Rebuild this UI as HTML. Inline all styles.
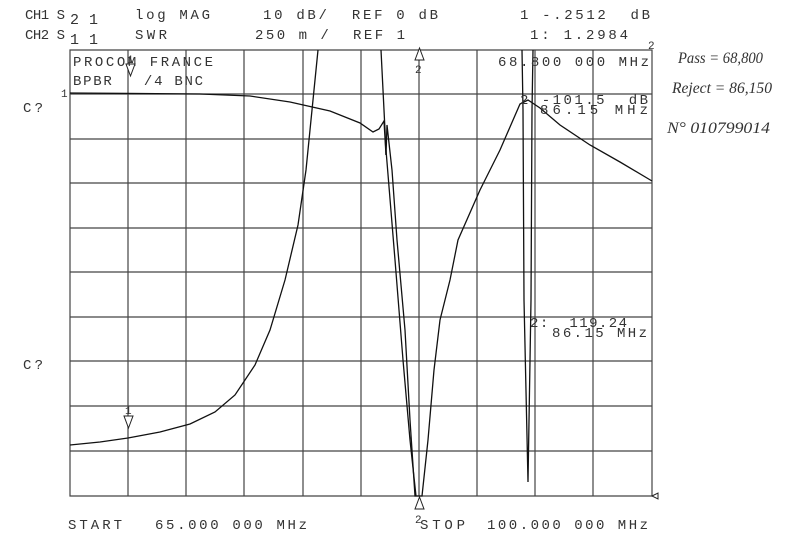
<!DOCTYPE html>
<html><head><style>
body{margin:0;background:#fff;}
svg{display:block}
text{font-family:"Liberation Mono",monospace;fill:#333;white-space:pre;}
</style></head><body>
<svg width="800" height="557" viewBox="0 0 800 557" xml:space="preserve">
<rect width="800" height="557" fill="#fff"/>
<g stroke="#444" stroke-width="1.2" fill="none">
<path d="M70 50H652V496H70Z"/>
<path d="M128 50V496M186 50V496M244 50V496M303 50V496M361 50V496M419 50V496M477 50V496M535 50V496M593 50V496"/>
<path d="M70 94H652M70 139H652M70 183H652M70 228H652M70 272H652M70 317H652M70 361H652M70 406H652M70 451H652"/>
</g>
<g stroke="#111" stroke-width="1.3" fill="none">
<path d="M70 93 L200 94 L250 96 L290 102 L330 111 L360 123 L373 132 L379 129 L384 121 L386 155 L387 125 L392 170 L397 240 L405 330 L410 420 L415 496 L422 496 L428 440 L434 370 L440 320 L450 280 L458 240 L480 190 L500 150 L520 104 L528 100 L540 108 L560 125 L590 145 L620 162 L652 181"/>
<path d="M70 445 L100 442 L128 438 L160 432 L190 424 L215 412 L235 395 L255 365 L270 330 L285 280 L298 225 L306 170 L312 110 L318 50"/>
<path d="M381 50 L385 130 L386 155"/>
<path d="M386 150 L395 260 L403 360 L410 440 L416 496"/>
<path d="M522 50 L523 110 L524 300 L528 482 L531 300 L532 110 L533 50"/>
</g>
<g stroke="#222" stroke-width="1" fill="#fff">
<path d="M124 416 L133 416 L128.5 428Z"/>
<path d="M126 64 L135 64 L130.5 76Z"/>
<path d="M415 60 L424 60 L419.5 48Z"/>
<path d="M415 509 L424 509 L419.5 497Z"/>
<path d="M652 496 L658 493 L658 499Z"/>
</g>
<g font-size="14">
<text x="25" y="19" textLength="40" lengthAdjust="spacing">CH1 S</text>
<text x="70" y="24" font-size="15" textLength="28" lengthAdjust="spacing">21</text>
<text x="25" y="39" textLength="40" lengthAdjust="spacing">CH2 S</text>
<text x="70" y="44" font-size="15" textLength="28" lengthAdjust="spacing">11</text>
<text x="135" y="19" textLength="75" lengthAdjust="spacing">log MAG</text>
<text x="135" y="39" textLength="32" lengthAdjust="spacing">SWR</text>
<text x="263" y="19" textLength="175" lengthAdjust="spacing">10 dB/  REF 0 dB</text>
<text x="255" y="39" textLength="150" lengthAdjust="spacing">250 m /  REF 1</text>
<text x="520" y="19" textLength="130" lengthAdjust="spacing">1 -.2512  dB</text>
<text x="530" y="39" textLength="98" lengthAdjust="spacing">1: 1.2984</text>
<text x="73" y="66" textLength="140" lengthAdjust="spacing">PROCOM FRANCE</text>
<text x="73" y="85" textLength="130" lengthAdjust="spacing">BPBR   /4 BNC</text>
<text x="498" y="66" textLength="151" lengthAdjust="spacing">68.800 000 MHz</text>
<text x="520" y="104" textLength="128" lengthAdjust="spacing">2 -101.5  dB</text>
<text x="540" y="114" textLength="108" lengthAdjust="spacing">86.15 MHz</text>
<text x="530" y="327" textLength="97" lengthAdjust="spacing">2:  119.24</text>
<text x="552" y="337" textLength="95" lengthAdjust="spacing">86.15 MHz</text>
<text x="23" y="112" textLength="20" lengthAdjust="spacing">C?</text>
<text x="23" y="369" textLength="20" lengthAdjust="spacing">C?</text>
<text x="61" y="97" font-size="11">1</text>
<text x="125" y="414" font-size="11">1</text>
<text x="127" y="63" font-size="11">1</text>
<text x="415" y="73" font-size="11">2</text>
<text x="415" y="523" font-size="11">2</text>
<text x="68" y="529" textLength="54" lengthAdjust="spacing">START</text>
<text x="155" y="529" textLength="152" lengthAdjust="spacing">65.000 000 MHz</text>
<text x="420" y="529" textLength="45" lengthAdjust="spacing">STOP</text>
<text x="487" y="529" textLength="161" lengthAdjust="spacing">100.000 000 MHz</text>
<text x="648" y="49" font-size="11">2</text>
</g>
<g font-size="16" fill="#222">
<text x="678" y="63" style="font-family:'Liberation Serif',serif;font-style:italic" textLength="85" lengthAdjust="spacingAndGlyphs">Pass = 68,800</text>
<text x="672" y="93" style="font-family:'Liberation Serif',serif;font-style:italic" textLength="100" lengthAdjust="spacingAndGlyphs">Reject = 86,150</text>
<text x="667" y="133" style="font-family:'Liberation Serif',serif;font-style:italic" textLength="103" lengthAdjust="spacingAndGlyphs">N° 010799014</text>
</g>
</svg>
</body></html>
